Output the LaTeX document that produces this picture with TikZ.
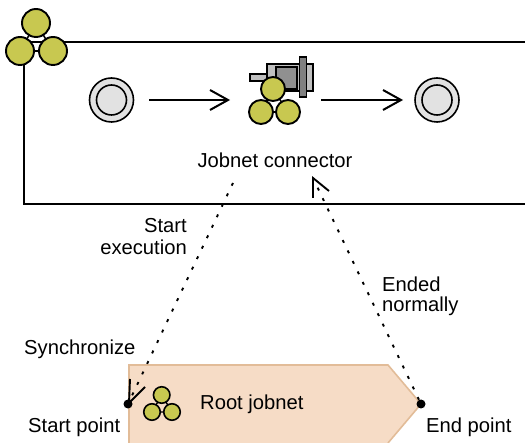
\documentclass[tikz,border=0pt]{standalone}
\usepackage{fontspec}
\setmainfont{Liberation Sans}
\begin{document}
\begin{tikzpicture}[x=1pt,y=-1pt,line join=miter,
  ball/.style={circle,draw=black,fill=olive1,line width=1.9pt,inner sep=0pt,minimum size=#1},
  ball/.default=28pt,
  lbl/.style={inner sep=0pt,font=\fontsize{20.2}{22}\selectfont},
  frameline/.style={line width=2pt},
  flow/.style={line width=2pt},
  dots/.style={line width=1.9pt,dash pattern=on 3pt off 8.6pt},
  barb/.style={line width=1.9pt},
  dot/.style={circle,fill=black,inner sep=0pt,minimum size=9pt},
  startring/.style={circle,draw=black,fill=ringgray,line width=1.6pt,inner sep=0pt,minimum size=#1}]
\definecolor{olive1}{HTML}{C8C850}
\definecolor{ringgray}{HTML}{E2E2E2}
\definecolor{peach}{HTML}{F6DCC6}
\definecolor{peachline}{HTML}{E2BC98}
\definecolor{iconA}{HTML}{C0C0C0}
\definecolor{iconB}{HTML}{909090}
\definecolor{iconC}{HTML}{808080}
\useasboundingbox (0,0) rectangle (525,443);
% frame
\coordinate (ftr) at (525,42.5);
\coordinate (ftl) at (24,42.5);
\coordinate (fbl) at (24,204);
\coordinate (fbr) at (525,204);
\draw[frameline] (ftr) -- (ftl) -- (fbl) -- (fbr);
% jobnet mark in corner
\draw[line width=1.6pt] (36,23) -- (20,51) -- (53,51) -- cycle;
\node[ball] (ca) at (36,23) {};
\node[ball] (cb) at (20,51) {};
\node[ball] (cc) at (53,51) {};
% start and end events
\node[startring=44pt] (so) at (111.5,100) {};
\node[startring=30pt] (si) at (111.5,100) {};
\node[startring=44pt] (eo) at (437,100) {};
\node[startring=30pt] (ei) at (437,100) {};
% connector icon
\draw[line width=1.7pt,fill=iconA] (250,74) rectangle (270,81);
\draw[line width=1.7pt,fill=iconA] (267,64) rectangle (313,91);
\draw[line width=1.7pt,fill=iconB] (276,67) rectangle (297,89);
\draw[line width=1.7pt,fill=iconC] (299.5,57) rectangle (306.5,97);
\draw[line width=1.6pt] (273,89) -- (261,112) -- (288,112) -- cycle;
\node[ball=24pt] (ja) at (273,89) {};
\node[ball=24pt] (jb) at (261,112) {};
\node[ball=24pt] (jc) at (288,112) {};
\coordinate (ar1a) at (149,100);
\coordinate (ar1b) at (228,100);
\coordinate (ar2a) at (321,100);
\coordinate (ar2b) at (401,100);
\draw[flow] (ar1a) -- (ar1b);
\draw[flow] (210,90) -- (ar1b) -- (210,110);
\draw[flow] (ar2a) -- (ar2b);
\draw[flow] (383,90) -- (ar2b) -- (383,110);
\node[lbl] (jc1) at (275,160) {Jobnet connector};
% root jobnet
\draw[fill=peach,draw=peachline,line width=1.6pt] (129,443) -- (129,365) -- (388,365) -- (421,404) -- (388,443);
\draw[line width=1.4pt] (161.7,395) -- (152,412) -- (172,412) -- cycle;
\node[ball=16.5pt,line width=1.6pt] (ra) at (161.7,395) {};
\node[ball=16.5pt,line width=1.6pt] (rb) at (152,412) {};
\node[ball=16.5pt,line width=1.6pt] (rc) at (172,412) {};
\node[lbl,anchor=west] (rt) at (200,404) {Root jobnet};
\node[dot] (sp) at (128,404) {};
\node[dot] (ep) at (421,404) {};
% dotted flows
\coordinate (a1) at (233,183);
\coordinate (a2) at (313,178);
\draw[dots] (a1) -- (sp);
\draw[dots] (ep) -- (a2);
\draw[barb] (130,379) -- (129,403) -- (145,387);
\draw[barb] (313,198) -- (313,178) -- (329,191);
% labels
\node[lbl,anchor=east] at (187,226) {Start};
\node[lbl,anchor=east] at (187,247) {execution};
\node[lbl,anchor=west] at (382,284) {Ended};
\node[lbl,anchor=west] at (382,306) {normally};
\node[lbl,anchor=west] at (24,349) {Synchronize};
\node[lbl,anchor=west] at (28,427) {Start point};
\node[lbl,anchor=west] at (426,427) {End point};
\end{tikzpicture}
\end{document}
